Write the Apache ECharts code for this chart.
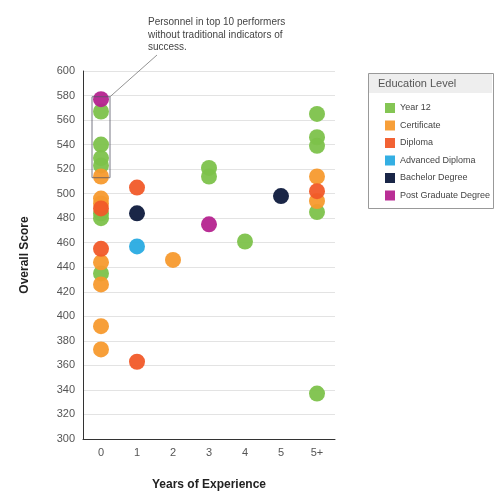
<!DOCTYPE html><html><head><meta charset="utf-8"><script src="https://cdn.jsdelivr.net/npm/echarts@6/dist/echarts.min.js"></script></head><body style="margin:0"><div id="c" style="width:502px;height:498px"></div><script>
const categories=['0','1','2','3','4','5','5+'];
const seriesNames=['Year 12','Certificate','Diploma','Advanced Diploma','Bachelor Degree','Post Graduate Degree'];
const colors=['#7dc24b','#f79a2e','#f15a29','#29abe2','#0e1a3d','#b5238f'];
const year12=[['0',567],['0',540],['0',529],['0',523],['0',480],['0',484],['0',435],['3',521],['3',514],['4',461],['5+',565],['5+',546],['5+',539],['5+',485],['5+',337]];
const certificate=[['0',514],['0',496],['0',492],['0',444],['0',426],['0',392],['0',373],['2',446],['5+',514],['5+',494]];
const diploma=[['0',488],['0',455],['1',505],['1',363],['5+',502]];
const advDiploma=[['1',457]];
const bachelor=[['1',484],['5',498]];
const postGrad=[['0',577],['3',475]];
const all=[year12,certificate,diploma,advDiploma,bachelor,postGrad];
const chart=echarts.init(document.getElementById('c'));
chart.setOption({
 grid:{left:83,top:71,width:252,height:368},
 xAxis:{type:'category',data:categories,name:'Years of Experience',nameLocation:'middle',nameGap:40,
  nameTextStyle:{fontWeight:'bold',fontSize:12,color:'#222'},axisTick:{show:false},
  axisLine:{lineStyle:{color:'#333'}},axisLabel:{color:'#555',fontSize:11}},
 yAxis:{type:'value',min:300,max:600,interval:20,name:'Overall Score',nameLocation:'middle',nameGap:52,
  nameTextStyle:{fontWeight:'bold',fontSize:12,color:'#222'},
  axisLine:{show:true,lineStyle:{color:'#333'}},axisLabel:{color:'#555',fontSize:11},
  splitLine:{lineStyle:{color:'#e3e3e3'}}},
 legend:{orient:'vertical',left:380,top:98,itemWidth:10,itemHeight:10,itemGap:7.5,icon:'rect',
  textStyle:{fontSize:9,color:'#444'},data:seriesNames},
 series:all.map((d,i)=>({name:seriesNames[i],type:'scatter',data:d,symbolSize:16,itemStyle:{color:colors[i],opacity:0.95}})),
 graphic:[
  {type:'rect',left:368,top:73,shape:{width:125,height:135},style:{fill:'#fff',stroke:'#999',lineWidth:1},z:-1},
  {type:'rect',left:369,top:74,shape:{width:123,height:19},style:{fill:'#eee'},z:-1},
  {type:'text',left:378,top:78,style:{text:'Education Level',fontSize:11,fill:'#555'}},
  {type:'text',left:148,top:16,style:{text:'Personnel in top 10 performers\nwithout traditional indicators of\nsuccess.',fontSize:10,fill:'#444',lineHeight:12.5}}
 ]
});
const p1=chart.convertToPixel({gridIndex:0},['0',579]);
const p2=chart.convertToPixel({gridIndex:0},['0',513]);
chart.setOption({graphic:[{},{},{},{},
 {type:'rect',shape:{x:p1[0]-9,y:p1[1],width:18,height:p2[1]-p1[1]},style:{fill:'none',stroke:'#556',lineWidth:0.8},z:10},
 {type:'line',shape:{x1:p1[0]+9,y1:p1[1],x2:157,y2:55},style:{stroke:'#777',lineWidth:0.8},z:10}
]});
</script></body></html>
